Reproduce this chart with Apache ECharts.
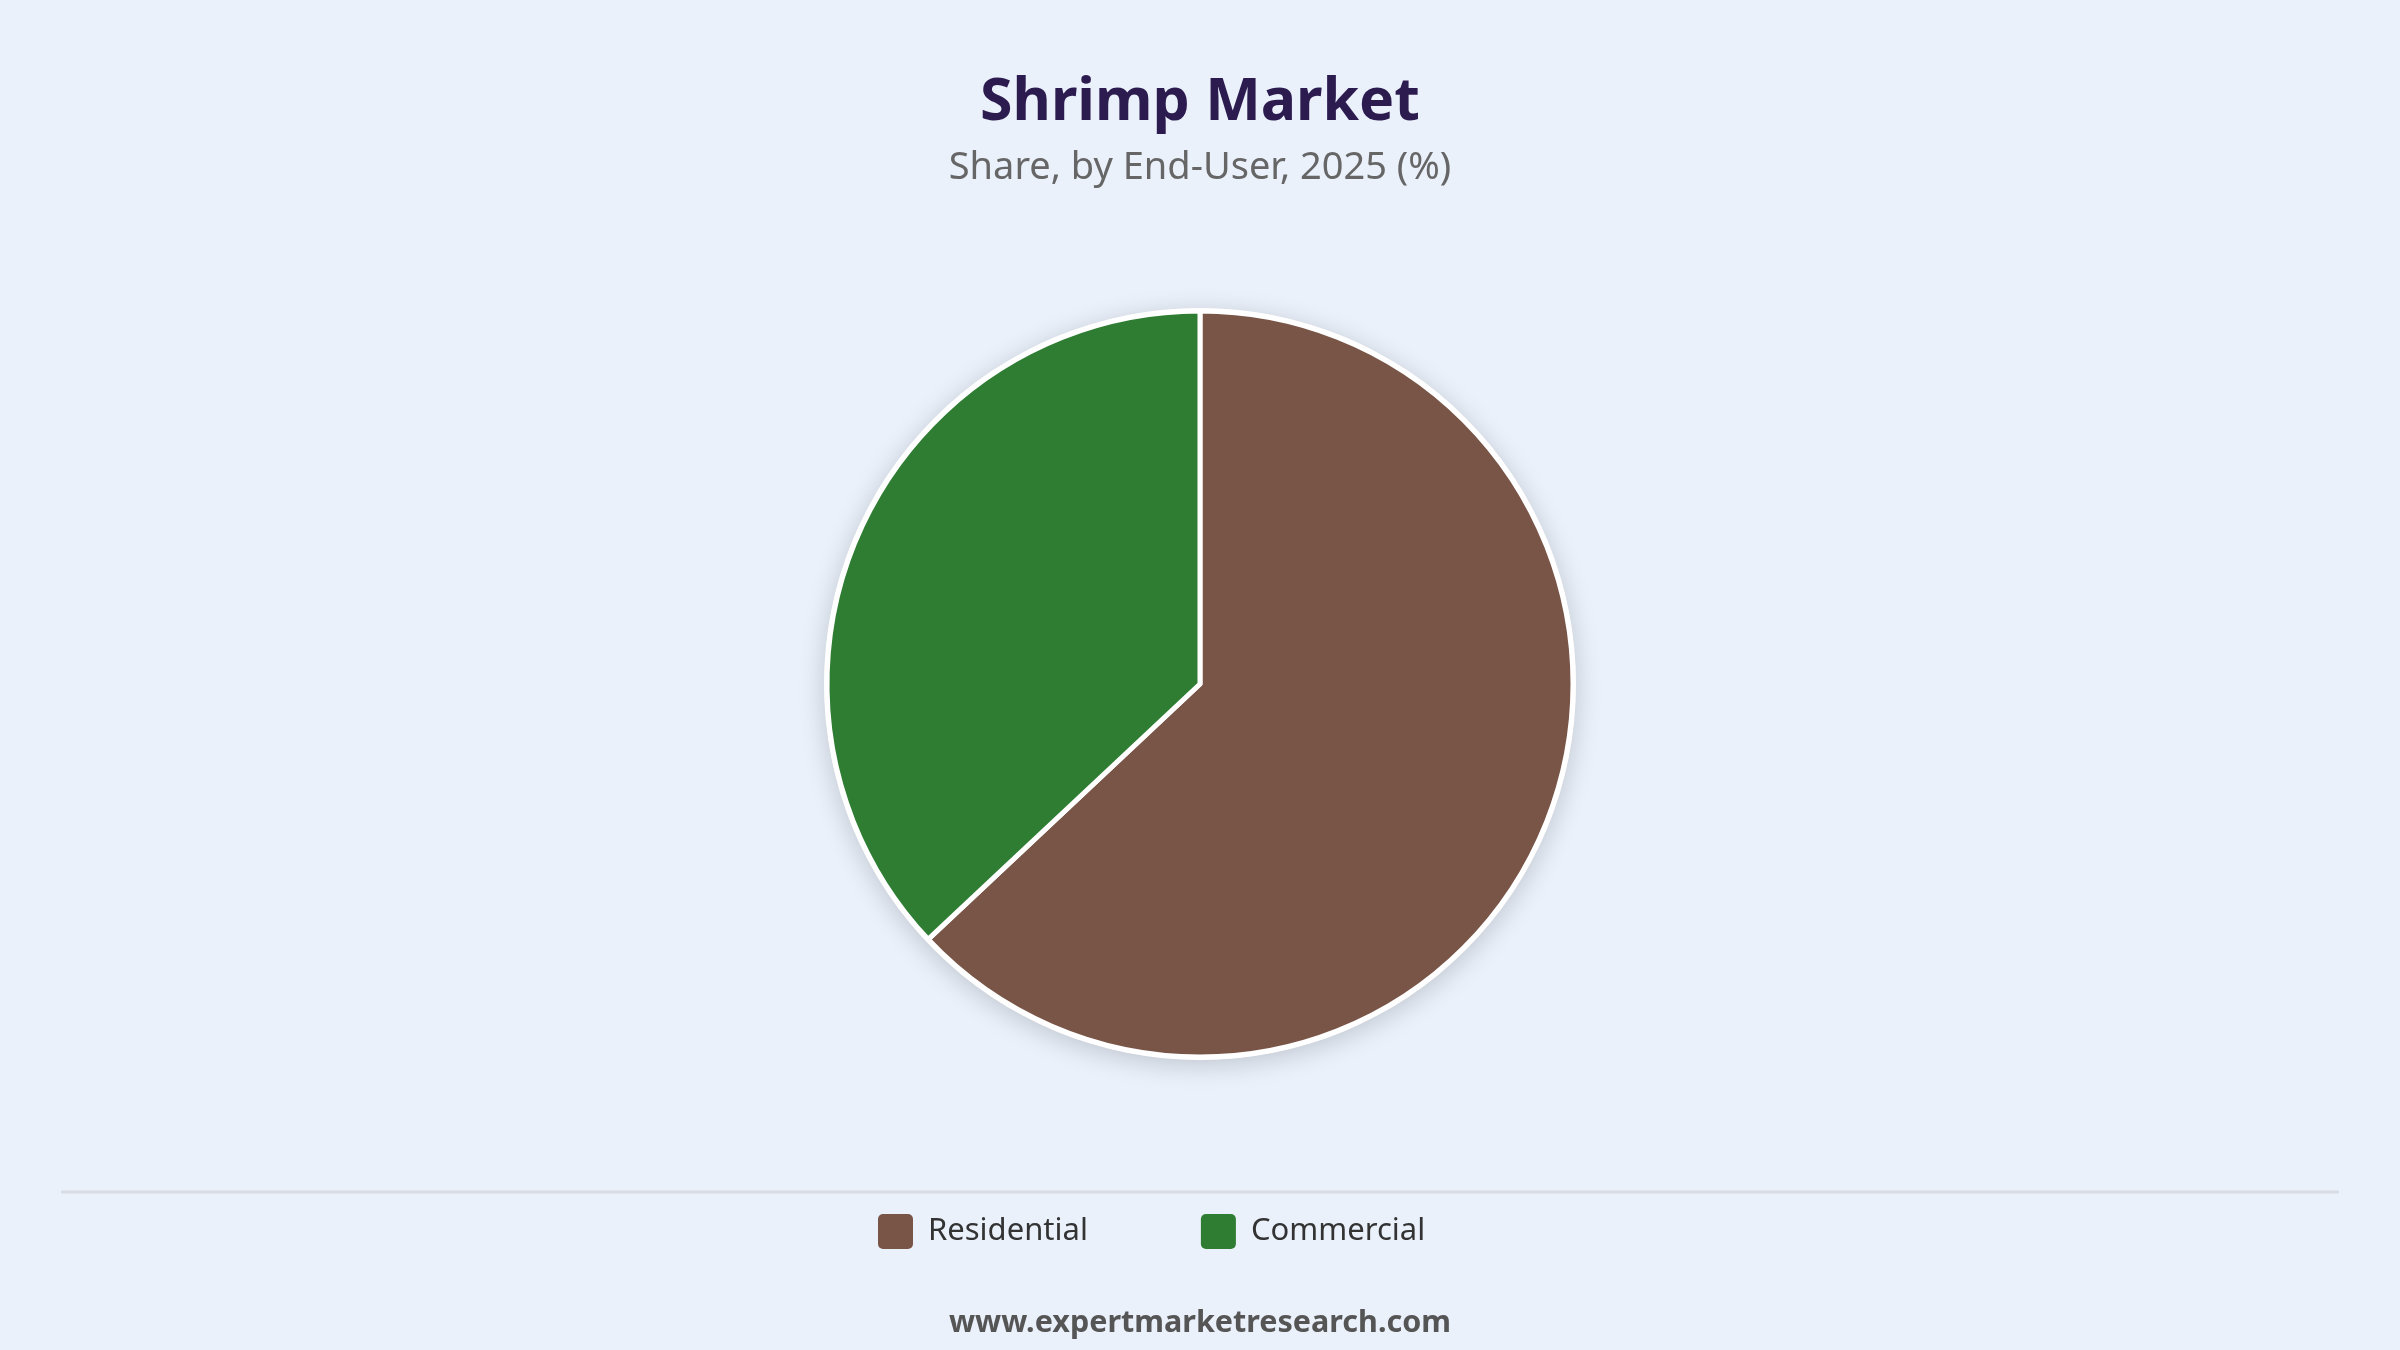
<!DOCTYPE html>
<html>
<head>
<meta charset="utf-8">
<script src="https://cdn.jsdelivr.net/npm/echarts@6/dist/echarts.min.js"></script>
<style>
html,body{margin:0;padding:0;background:#eaf1fb;}
#chart{width:2400px;height:1350px;}
</style>
</head>
<body>
<div id="chart"></div>
<script>
const titleText = 'Shrimp Market';
const subtitleText = 'Share, by End-User, 2025 (%)';
const footerText = 'www.expertmarketresearch.com';
const categories = ['Residential', 'Commercial'];
const shares = [63, 37];
const colors = ['#795548', '#2e7d32'];

const chart = echarts.init(document.getElementById('chart'));
const FONT = '"Noto Sans", "Open Sans", sans-serif';

const pieData = categories.map((c, i) => ({ name: c, value: shares[i], itemStyle: { color: colors[i] } }));

chart.setOption({
  backgroundColor: '#eaf1fb',
  title: [
    { text: titleText, left: 'center', top: 67,
      textStyle: { fontFamily: FONT, fontSize: 59, fontWeight: 'bold', color: '#2c1b4f', lineHeight: 62 } },
    { text: subtitleText, left: 'center', top: 143,
      textStyle: { fontFamily: FONT, fontSize: 38, fontWeight: 'normal', color: '#666666', lineHeight: 40 } },
    { text: footerText, left: 'center', top: 1300,
      textStyle: { fontFamily: FONT, fontSize: 30.5, fontWeight: 'bold', color: '#555555', lineHeight: 36 } }
  ],
  legend: {
    data: categories,
    left: 878,
    top: 1214,
    padding: 0,
    itemWidth: 35,
    itemHeight: 35,
    itemGap: 113,
    icon: 'path://M5,0 H30 A5,5 0 0 1 35,5 V30 A5,5 0 0 1 30,35 H5 A5,5 0 0 1 0,30 V5 A5,5 0 0 1 5,0 Z',
    itemStyle: { borderWidth: 0 },
    textStyle: { fontFamily: FONT, fontSize: 31, color: '#333333', padding: [0, 0, 0, 10] },
    selectedMode: false
  },
  graphic: [
    { type: 'line', shape: { x1: 61, y1: 1192, x2: 2339, y2: 1192 },
      style: { stroke: '#d9dde3', lineWidth: 3 }, silent: true }
  ],
  series: [
    {
      type: 'pie', silent: true, z: 1,
      center: ['50%', 684], radius: 376,
      label: { show: false }, labelLine: { show: false },
      itemStyle: { color: '#ffffff', shadowBlur: 26, shadowColor: 'rgba(0,0,0,0.18)', shadowOffsetY: 5 },
      data: [{ name: '_bg', value: 1 }]
    },
    {
      type: 'pie', z: 2,
      center: ['50%', 684], radius: 373,
      startAngle: 90, clockwise: true,
      label: { show: false }, labelLine: { show: false },
      itemStyle: { borderColor: '#ffffff', borderWidth: 5 },
      emphasis: { disabled: true },
      data: pieData
    }
  ]
});
</script>
</body>
</html>
